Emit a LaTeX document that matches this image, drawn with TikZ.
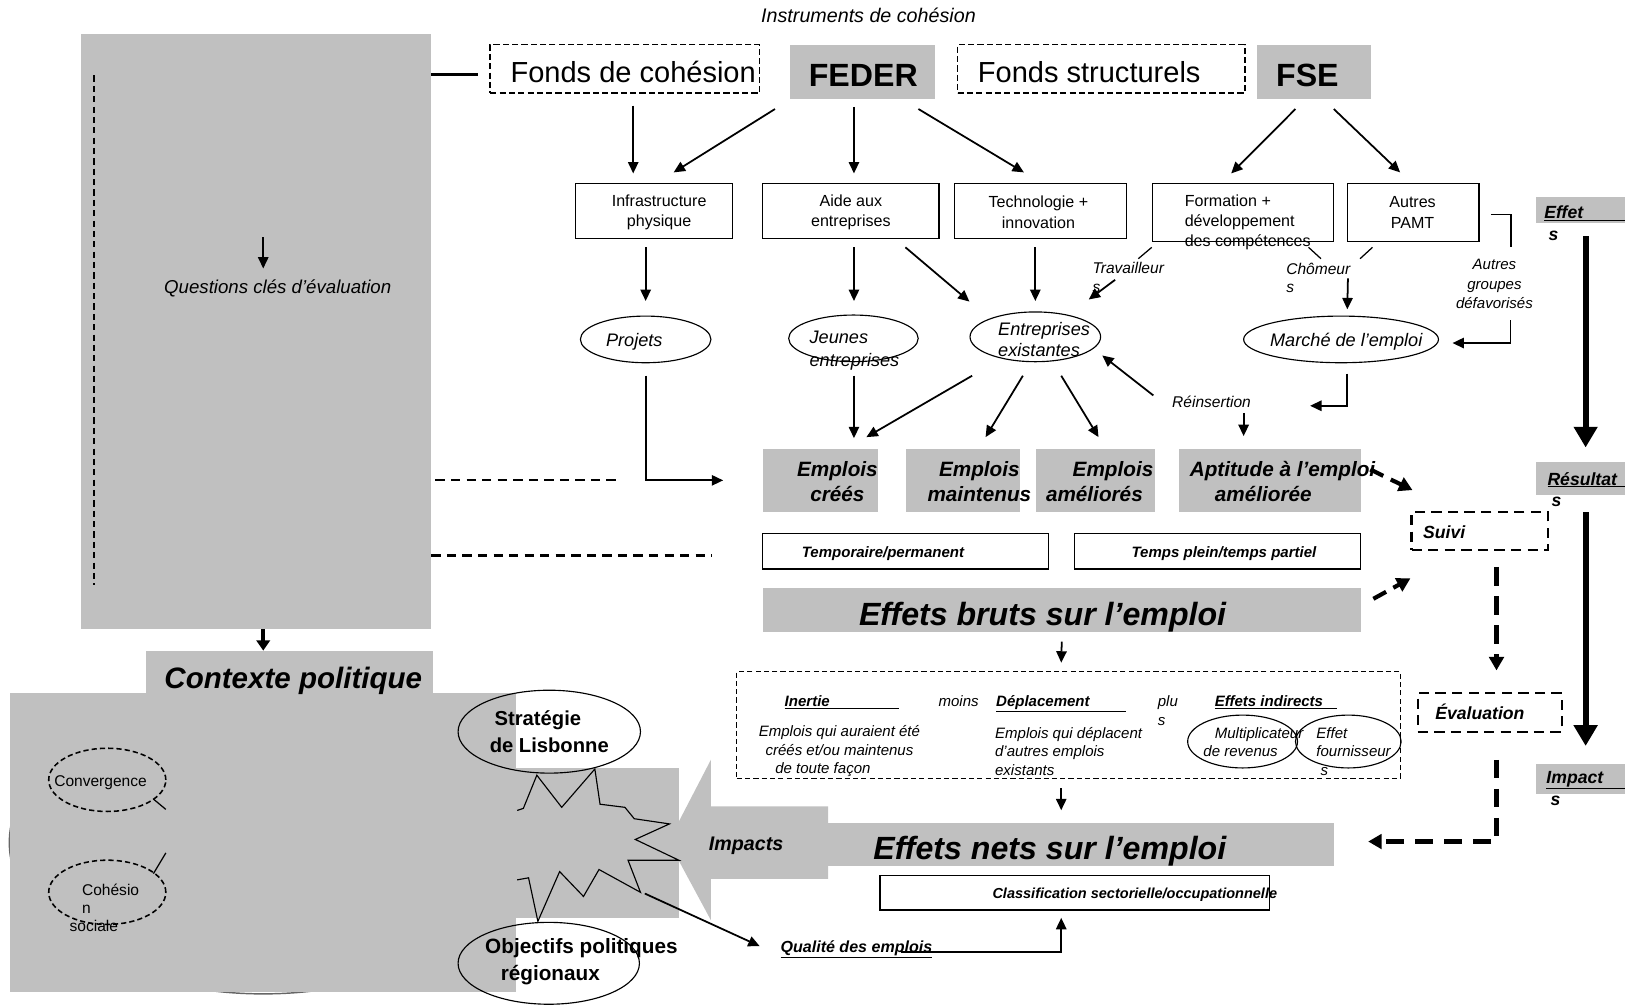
\documentclass[tikz,border=0pt]{standalone}
\usepackage{fontspec}
\setmainfont{Liberation Sans}
\usetikzlibrary{arrows.meta,shapes.geometric,calc}
\definecolor{gfill}{RGB}{192,192,192}
\newcommand\fz[2]{\fontsize{#1pt}{#2pt}\selectfont}
\begin{document}
\begin{tikzpicture}[x=1pt,y=-1pt,
  gbox/.style={fill=gfill, draw=none, inner sep=0pt},
  dbox/.style={draw, dash pattern=on 6pt off 3pt, line width=1.6pt, inner sep=0pt},
  tdbox/.style={draw, dash pattern=on 10pt off 6pt, line width=2.2pt, inner sep=0pt},
  wbox/.style={draw, line width=1.3pt, inner sep=0pt},
  ell/.style={draw, ellipse, line width=1.1pt, inner sep=0pt},
  dell/.style={draw, ellipse, dash pattern=on 5pt off 3pt, line width=1.5pt, inner sep=0pt},
  sz/.style 2 args={minimum width=#1pt, minimum height=#2pt},
  lb/.style={inner sep=0pt, align=center},
  arr/.style={line width=1.7pt, -{Triangle[length=11pt,width=10pt]}},
  darr/.style={line width=4pt, dash pattern=on 14pt off 8pt, -{Triangle[length=13pt,width=14pt]}},
  ddarr/.style={line width=4pt, dash pattern=on 18pt off 10pt, -{Triangle[length=13pt,width=14pt]}},
  bigarr/.style={line width=6pt, -{Triangle[length=20pt,width=22pt]}},
  dl/.style={line width=2pt, dash pattern=on 9pt off 6pt},
  tick/.style={line width=1.2pt}
]
\useasboundingbox (0,0) rectangle (1568,969);

% ---------- background gray areas ----------
\draw[black!60, line width=1.4pt] (254,813) ellipse [x radius=245, y radius=146];
\node[gbox, sz={338}{574}] (l1) at (247,320) {};
\node[gbox, sz={488}{288}] (l2) at (254,813) {};
\node[gbox, sz={277}{41}] (contexte) at (279.5,648.5) {};
\node[gbox, sz={157}{145}] (starbg) at (576.5,813.5) {};
\fill[gfill] (645,812) -- (686,733) -- (686,778) -- (799,778) -- (799,848) -- (686,848) -- (686,888) -- cycle;
\node[gbox, sz={488}{42}] (enets) at (1043,815) {};

% ---------- left panel ----------
\draw[line width=1.2pt, dash pattern=on 6pt off 4pt] ($(l1.north west)+(13,40)$) -- ($(l1.north west)+(13,532)$);
\node[lb, font={\fz{18}{21}\itshape}, anchor=base] (tq) at (268,283) {Questions clés d’évaluation};
\draw[arr] ($(tq.center)+(-14,-49)$) -- ($(tq.center)+(-14,-19)$);
\node[lb, font={\fz{28.5}{32}\bfseries\itshape}, anchor=base] (ctxt) at (283,664) {Contexte politique};
\draw[line width=3.5pt, -{Triangle[length=10pt,width=13pt]}] ($(l1.south)+(7,0)$) -- ($(contexte.north)+(-25.5,0)$);

% ---------- top row ----------
\node[lb, font={\fz{19}{22}\itshape}, anchor=base] (instr) at (838,22) {Instruments de cohésion};
\node[dbox, sz={260}{47}] (fc) at (603,66.5) {};
\node[lb, font={\fz{28}{32}}, anchor=base] (fct) at (611,80) {Fonds de cohésion};
\node[gbox, sz={140}{53}] (feder) at (832,69.5) {};
\node[lb, font={\fz{31}{34}\bfseries}, anchor=base] (federt) at (833,83) {FEDER};
\node[dbox, sz={277}{47}] (fs) at (1062.5,66.5) {};
\node[lb, font={\fz{28}{32}}, anchor=base] (fst) at (1051,80) {Fonds structurels};
\node[gbox, sz={110}{53}] (fse) at (1268,69.5) {};
\node[lb, font={\fz{31}{34}\bfseries}, anchor=base] (fset) at (1261.5,83) {FSE};
\draw[line width=3pt] ($(l1.east |- fc.west)+(0,5.5)$) -- ($(fc.west)+(-11,5.5)$);

% ---------- programme boxes ----------
\node[wbox, sz={152}{53}] (infra) at (631,203.5) {};
\node[lb, font={\fz{15.5}{20}}] (infrat) at (636,205) {Infrastructure\\physique};
\node[wbox, sz={170}{53}] (aide) at (821,203.5) {};
\node[lb, font={\fz{15.5}{20}}] (aidet) at (821,205) {Aide aux\\entreprises};
\node[wbox, sz={166}{53}] (tech) at (1004,203.5) {};
\node[lb, font={\fz{15.5}{20}}] (techt) at (1002,205) {Technologie +\\innovation};
\node[wbox, sz={175}{56}] (form) at (1199.5,205) {};
\node[lb, font={\fz{15.5}{19.5}}, align=left, anchor=west] (formt) at (1143,214.5) {Formation +\\développement\\des compétences};
\node[wbox, sz={127}{56}] (pamt) at (1363.5,205) {};
\node[lb, font={\fz{15.5}{20}}] (pamtt) at (1363,205) {Autres\\PAMT};

\draw[arr] ($(fc.south)+(8,11)$) -- ($(infra.north)+(-20,-9)$);
\draw[arr] ($(feder.south west)+(-14,9)$) -- ($(infra.north)+(19,-10)$);
\draw[arr] ($(feder.south)+(-8,7)$) -- ($(aide.north)+(3,-9)$);
\draw[arr] ($(feder.south east)+(-16,9)$) -- ($(tech.north)+(-16,-10)$);
\draw[arr] ($(fse.south)+(-18,9)$) -- ($(form.north)+(-11.5,-9)$);
\draw[arr] ($(fse.south)+(19,9)$) -- ($(pamt.north)+(-12.5,-10)$);

% ---------- ellipses ----------
\node[ell, sz={126}{45}] (projets) at (623,327.5) {};
\node[lb, font={\fz{17.5}{21}\itshape}, anchor=base] (projt) at (612,334) {Projets};
\node[ell, sz={125}{45}] (jeunes) at (823.5,326.5) {};
\node[lb, font={\fz{17.5}{22}\itshape}, align=left, anchor=west] (jeut) at (781,338) {Jeunes\\entreprises};
\node[ell, sz={126}{48}] (entex) at (999,325) {};
\node[lb, font={\fz{17.5}{21}\itshape}, align=left, anchor=west] (entt) at (963,327.5) {Entreprises\\existantes};
\node[ell, sz={188}{45}] (marche) at (1294,327.5) {};
\node[lb, font={\fz{17.5}{21}\itshape}, anchor=base] (marct) at (1299,334) {Marché de l’emploi};

\node[lb, font={\fz{15}{18}\itshape}, align=left, anchor=west] (travt) at (1054,268) {Travailleur\\s};
\node[lb, font={\fz{15}{18}\itshape}, align=left, anchor=west] (chomt) at (1241,268) {Chômeur\\s};
\node[lb, font={\fz{14.5}{19}\itshape}] (autt) at (1442,274) {Autres\\groupes\\défavorisés};

\draw[arr] ($(infra.south)+(-8,8)$) -- ($(projets.north)+(0,-14)$);
\draw[arr] ($(aide.south)+(3,8)$) -- ($(jeunes.north)+(0.5,-13)$);
\draw[arr] ($(aide.south east)+(-33,8)$) -- ($(entex.west)+(0,-34)$);
\draw[arr] ($(tech.south)+(-5,8)$) -- ($(entex.north)+(0,-10)$);
\draw[tick] ($(form.south west)+(0,5)$) -- ($(form.south west)+(-13,16)$);
\draw[arr] ($(travt.west)+(22,2)$) -- ($(entex.east)+(-12,-36)$);
\draw[tick] ($(form.south east)+(-25,5)$) -- ($(form.south east)+(-13,16)$);
\draw[tick] ($(pamt.south west)+(25,5)$) -- ($(pamt.south west)+(13,16)$);
\draw[arr] ($(form.south east)+(13,35)$) -- ($(marche.north)+(6,-6)$);
\draw[line width=1.7pt] ($(pamt.east)+(11,2)$) -- ++(19,0) -- ++(0,31);
\draw[arr] ($(marche.east)+(69,-18.5)$) |- ($(marche.east)+(13,3.5)$);

% ---------- job boxes ----------
\node[gbox, sz={111}{61}] (ec) at (791.5,463.5) {};
\node[lb, font={\fz{20}{24}\bfseries\itshape}] (ect) at (808,465) {Emplois\\créés};
\node[gbox, sz={110}{61}] (em) at (929,463.5) {};
\node[lb, font={\fz{20}{24}\bfseries\itshape}] (emt) at (945,465) {Emplois\\maintenus};
\node[gbox, sz={114}{61}] (ea) at (1057,463.5) {};
\node[lb, font={\fz{20}{24}\bfseries\itshape}] (eat) at (1056,465) {\hspace*{36pt}Emplois\\améliorés};
\node[gbox, sz={175}{61}] (apt) at (1225.5,463.5) {};
\node[lb, font={\fz{20}{24}\bfseries\itshape}] (aptt) at (1219,465) {\hspace*{37pt}Aptitude à l’emploi\\améliorée};
\node[lb, font={\fz{15}{18}\itshape}, anchor=base] (reint) at (1169,393) {Réinsertion};

\draw[arr] ($(projets.south)+(0,12)$) |- ($(ec.west)+(-38,0)$);
\draw[arr] ($(jeunes.south)+(0.5,13)$) -- ($(ec.north)+(32.5,-10)$);
\draw[arr] ($(entex.south)+(-61,13)$) -- ($(ec.north)+(44.5,-11)$);
\draw[arr] ($(entex.south)+(-12,13)$) -- ($(em.north)+(22,-11)$);
\draw[arr] ($(entex.south)+(25,13)$) -- ($(ea.north)+(3,-11)$);
\draw[arr] ($(reint.west)+(-18,-6)$) -- ($(entex.east)+(1,18)$);
\draw[arr] ($(reint.south)+(31,5)$) -- ($(apt.north)+(-25.5,-12)$);
\draw[arr] ($(marche.south)+(6,10)$) |- ($(reint.east)+(57,4)$);

\node[wbox, sz={276}{34}] (tp) at (874,532) {};
\node[lb, font={\fz{14.5}{17}\bfseries\itshape}, anchor=base] (tpt) at (852,538) {Temporaire/permanent};
\node[wbox, sz={276}{34}] (tpp) at (1175,532) {};
\node[lb, font={\fz{14.5}{17}\bfseries\itshape}, anchor=base] (tppt) at (1181,538) {Temps plein/temps partiel};
\node[gbox, sz={577}{43}] (ebruts) at (1024.5,588.5) {};
\node[lb, font={\fz{31}{34}\bfseries\itshape}, anchor=base] (ebt) at (1006,604) {Effets bruts sur l’emploi};

\draw[dl] ($(l1.east |- ec.west)+(4,0)$) -- ($(ec.west)+(-136,0)$);
\draw[dl] ($(l1.east |- tp.west)+(0,4)$) -- ($(tp.west)+(-48,4)$);

% ---------- monitoring / evaluation ----------
\node[tdbox, sz={132}{37}] (suivi) at (1428,512.5) {};
\node[lb, font={\fz{17}{20}\bfseries\itshape}, anchor=base west] (suivt) at (1373,520) {Suivi};
\node[tdbox, sz={139}{37}] (eval) at (1437.5,687.5) {};
\node[lb, font={\fz{17}{20}\bfseries\itshape}, anchor=base] (evalt) at (1428,694) {Évaluation};
\draw[darr] ($(apt.east)+(9,-10.5)$) -- ($(suivi.north west)+(2,-20)$);
\draw[darr] ($(ebruts.north east)+(12,11)$) -- ($(suivi.south west)+(0,26)$);
\draw[ddarr] ($(suivi.south)+(16,15)$) -- ($(eval.north)+(6.5,-21)$);
\draw[ddarr] ($(eval.south)+(6.5,26)$) |- ($(enets.east)+(33,-3)$);

% ---------- inertia box ----------
\node[draw, line width=1.2pt, dash pattern=on 5pt off 3pt, inner sep=0pt, sz={640}{103}] (inert) at (1031,699.5) {};
\node[lb, font={\fz{14.5}{18}\bfseries\itshape}, anchor=base west] (inet) at (757,682) {\underline{\makebox[110pt][l]{Inertie}}};
\node[lb, font={\fz{14.5}{18}\itshape}, anchor=base] (moint) at (925,682) {moins};
\node[lb, font={\fz{14.5}{18}\bfseries\itshape}, anchor=base west] (dept) at (961,682) {\underline{\makebox[125pt][l]{Déplacement}}};
\node[lb, font={\fz{14.5}{18}\itshape}, align=left, anchor=west] (plut) at (1117,686) {plu\\s};
\node[lb, font={\fz{14.5}{18}\bfseries\itshape}, anchor=base west] (eit) at (1172,682) {\underline{\makebox[118pt][l]{Effets indirects}}};
\node[lb, font={\fz{14.5}{18}\itshape}] (inet2) at (810,725) {Emplois qui auraient été\\créés et/ou maintenus\\de toute façon\hspace*{32pt}};
\node[lb, font={\fz{14.5}{18}\itshape}, align=left, anchor=west] (dept2) at (960,725) {Emplois qui déplacent\\d’autres emplois\\existants};
\node[ell, sz={106}{51}] (mult) at (1199,715.5) {};
\node[ell, sz={102}{51}] (fourn) at (1301,715.5) {};
\node[lb, font={\fz{14.5}{18}\itshape}, align=left, anchor=west] (multt) at (1161,716) {\hspace*{11pt}Multiplicateur\\de revenus};
\node[lb, font={\fz{14.5}{18}\itshape}, align=left, anchor=west] (fournt) at (1270,725) {Effet\\fournisseur\\\hspace*{4pt}s};

\draw[arr] ($(ebruts.south)+(0,9)$) -- ($(inert.north)+(-7,-8)$);
\draw[arr] ($(inert.south)+(-7,9)$) -- ($(enets.north)+(-19,-12)$);

% ---------- net effects ----------
\node[lb, font={\fz{19}{22}\bfseries\itshape}, anchor=base] (impt) at (720,821) {Impacts};
\node[lb, font={\fz{31}{34}\bfseries\itshape}, anchor=base] (ent) at (1013,829) {Effets nets sur l’emploi};
\node[wbox, sz={376}{33}] (class) at (1037,861.5) {};
\node[lb, font={\fz{14}{17}\bfseries\itshape}, anchor=base] (clat) at (1095,867) {Classification sectorielle/occupationnelle};
\node[lb, font={\fz{15.5}{18}\bfseries\itshape}, anchor=base west] (qualt) at (753,919) {\underline{Qualité des emplois}};

% ---------- policy context ----------
\node[ell, sz={176}{80}] (strat) at (530,706) {};
\node[lb, font={\fz{19.5}{26}\bfseries}] (strt) at (530,706) {Stratégie\hspace*{22pt}\\de Lisbonne};
\node[ell, sz={175}{79}] (obj) at (529.5,929.5) {};
\node[lb, font={\fz{20}{26}\bfseries}] (objt) at (561,928) {Objectifs politiques\\régionaux\hspace*{60pt}};
\draw[line width=1.1pt] (499,782) -- (505,780) -- (518,748) -- (542,779) -- (574,742) -- (579,776) -- (603,779) -- (612,790) -- (646,795) -- (613,810) -- (655,830) -- (606,830) -- (618,861) -- (578,839) -- (563,865) -- (540,841) -- (519,889) -- (510,847) -- (499,849);
\draw[arr] ($(starbg.south east)+(-33,-24)$) -- ($(qualt.west)+(-20,-3)$);
\draw[arr] ($(qualt.west)+(116,3)$) -| ($(class.south)+(-13,7)$);

\node[dell, sz={113}{61}] (conv) at (103.5,752.5) {};
\node[lb, font={\fz{15}{18}}, anchor=base] (convt) at (97,759) {Convergence};
\node[dell, sz={113}{62}] (coh) at (103.5,861) {};
\node[lb, font={\fz{15}{17.5}}, align=left, anchor=west] (coht) at (79,876) {Cohésio\\n\\\hspace*{-12pt}sociale};
\draw[tick] ($(conv.center)+(44.5,18.5)$) -- ++(12,10);
\draw[tick] ($(coh.center)+(44.5,-18)$) -- ++(12,-20);

% ---------- right scale ----------
\node[gbox, sz={86}{25}] (effb) at (1525,202.5) {};
\node[lb, font={\fz{17}{20}\bfseries\itshape}, anchor=base west] (efft) at (1490,211) {\underline{\makebox[78pt][l]{Effet}}};
\node[lb, font={\fz{17}{20}\bfseries\itshape}, anchor=base west] (effs) at (1494,232) {s};
\node[gbox, sz={86}{32}] (resb) at (1525,462) {};
\node[lb, font={\fz{17}{20}\bfseries\itshape}, anchor=base west] (rest) at (1493,468) {\underline{\makebox[75pt][l]{Résultat}}};
\node[lb, font={\fz{17}{20}\bfseries\itshape}, anchor=base west] (ress) at (1497,489) {s};
\node[gbox, sz={86}{29}] (impb) at (1525,751.5) {};
\node[lb, font={\fz{17}{20}\bfseries\itshape}, anchor=base west] (impt2) at (1492,756) {\underline{\makebox[76pt][l]{Impact}}};
\node[lb, font={\fz{17}{20}\bfseries\itshape}, anchor=base west] (imps) at (1496,777) {s};
\draw[bigarr] ($(effb.south)+(5,13)$) -- ($(resb.north)+(5,-14)$);
\draw[bigarr] ($(resb.south)+(5,16)$) -- ($(impb.north)+(5,-17)$);
\end{tikzpicture}
\end{document}
